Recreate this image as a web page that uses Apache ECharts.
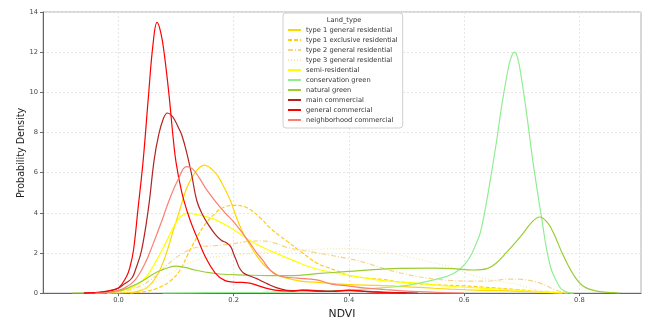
<!DOCTYPE html>
<html>
<head>
<meta charset="utf-8">
<script src="https://cdn.jsdelivr.net/npm/echarts@6/dist/echarts.min.js"></script>
<style>
  html, body { margin: 0; padding: 0; background: #fff; }
  #chart { width: 646px; height: 325px; }
</style>
</head>
<body>
<div id="chart"></div>
<script>
// legend order = draw order
const landTypes = [
  "type 1 general residential",
  "type 1 exclusive residential",
  "type 2 general residential",
  "type 3 general residential",
  "semi-residential",
  "conservation green",
  "natural green",
  "main commercial",
  "general commercial",
  "neighborhood commercial"
];

const xTicks = [0.0, 0.2, 0.4, 0.6, 0.8];

// KDE curves, [NDVI, density]
const t1General = [[-0.02,0],[0.02,0.03],[0.035,0.1],[0.049,0.26],[0.066,0.83],[0.081,1.8],[0.095,3.1],[0.107,4.2],[0.118,5.2],[0.133,6.0],[0.149,6.37],[0.168,6.0],[0.18,5.45],[0.194,4.63],[0.205,3.75],[0.217,2.95],[0.228,2.4],[0.24,1.85],[0.251,1.45],[0.263,1.15],[0.28,0.85],[0.315,0.6],[0.34,0.55],[0.40,0.42],[0.45,0.38],[0.49,0.33],[0.53,0.27],[0.575,0.2],[0.63,0.14],[0.69,0.1],[0.74,0.04],[0.78,0]];
const t1Exclusive = [[0.02,0],[0.046,0.08],[0.069,0.26],[0.089,0.58],[0.107,1.15],[0.121,1.96],[0.136,2.77],[0.15,3.41],[0.168,3.98],[0.185,4.3],[0.202,4.37],[0.223,4.25],[0.246,3.75],[0.263,3.25],[0.28,2.85],[0.292,2.6],[0.315,2.1],[0.344,1.5],[0.361,1.3],[0.38,1.1],[0.40,0.88],[0.43,0.75],[0.46,0.68],[0.489,0.55],[0.547,0.42],[0.6,0.36],[0.633,0.3],[0.69,0.18],[0.74,0.06],[0.79,0]];
const t2General = [[-0.02,0],[0.0,0.05],[0.03,0.25],[0.06,0.75],[0.081,1.31],[0.11,1.96],[0.139,2.3],[0.168,2.36],[0.194,2.44],[0.228,2.58],[0.25,2.6],[0.27,2.5],[0.292,2.28],[0.338,2.04],[0.40,1.71],[0.43,1.5],[0.46,1.23],[0.49,1.0],[0.518,0.83],[0.55,0.7],[0.575,0.63],[0.61,0.6],[0.64,0.6],[0.68,0.7],[0.70,0.68],[0.732,0.5],[0.761,0.13],[0.79,0]];
const t3General = [[-0.02,0],[0.0,0.02],[0.03,0.12],[0.05,0.35],[0.081,0.83],[0.11,1.31],[0.144,1.71],[0.185,1.85],[0.22,1.95],[0.263,2.04],[0.303,2.12],[0.36,2.2],[0.40,2.22],[0.43,2.15],[0.46,2.04],[0.518,1.71],[0.575,1.3],[0.62,0.85],[0.66,0.58],[0.69,0.45],[0.72,0.2],[0.76,0.05],[0.79,0]];
const semiRes = [[-0.04,0],[-0.02,0.02],[0.0,0.1],[0.023,0.26],[0.046,0.74],[0.063,1.47],[0.081,2.44],[0.094,3.2],[0.104,3.68],[0.112,3.9],[0.12,3.98],[0.13,3.95],[0.145,3.86],[0.168,3.66],[0.199,3.17],[0.234,2.52],[0.269,2.04],[0.303,1.63],[0.344,1.2],[0.39,0.94],[0.46,0.62],[0.518,0.5],[0.575,0.34],[0.633,0.24],[0.69,0.15],[0.73,0.06],[0.77,0]];
const consGreen = [[0.077,0],[0.15,0.02],[0.25,0.04],[0.30,0.06],[0.35,0.1],[0.40,0.15],[0.45,0.25],[0.489,0.34],[0.52,0.48],[0.547,0.66],[0.564,0.78],[0.58,0.95],[0.593,1.2],[0.603,1.5],[0.613,1.95],[0.62,2.4],[0.628,3.0],[0.638,4.4],[0.648,6.08],[0.657,7.7],[0.665,9.3],[0.674,10.8],[0.68,11.6],[0.687,12.0],[0.693,11.7],[0.70,10.6],[0.709,8.83],[0.717,7.05],[0.726,5.28],[0.735,3.66],[0.743,2.2],[0.75,1.3],[0.755,0.9],[0.762,0.5],[0.769,0.2],[0.78,0.04],[0.79,0]];
const natGreen = [[-0.08,0],[-0.04,0.01],[-0.02,0.03],[0.0,0.1],[0.017,0.26],[0.04,0.58],[0.063,0.99],[0.08,1.2],[0.098,1.34],[0.115,1.28],[0.133,1.15],[0.15,1.05],[0.176,0.95],[0.22,0.9],[0.263,0.87],[0.303,0.87],[0.344,0.97],[0.40,1.08],[0.45,1.18],[0.489,1.23],[0.547,1.24],[0.58,1.22],[0.616,1.15],[0.64,1.22],[0.656,1.5],[0.674,2.04],[0.69,2.55],[0.703,3.0],[0.718,3.55],[0.731,3.79],[0.745,3.5],[0.755,3.0],[0.772,1.88],[0.79,0.9],[0.807,0.34],[0.83,0.1],[0.86,0.02],[0.87,0]];
const mainCom = [[-0.06,0],[-0.04,0.03],[-0.02,0.1],[0.0,0.25],[0.01,0.45],[0.023,0.74],[0.03,1.2],[0.04,2.12],[0.052,4.22],[0.062,6.65],[0.07,7.9],[0.078,8.7],[0.085,8.97],[0.092,8.85],[0.098,8.6],[0.104,8.25],[0.11,7.86],[0.118,7.05],[0.127,5.9],[0.136,4.6],[0.146,3.9],[0.156,3.41],[0.168,2.93],[0.179,2.62],[0.188,2.5],[0.195,2.3],[0.2,1.95],[0.205,1.6],[0.21,1.25],[0.217,1.0],[0.228,0.85],[0.24,0.72],[0.252,0.55],[0.263,0.4],[0.28,0.22],[0.3,0.12],[0.33,0.15],[0.36,0.1],[0.4,0.12],[0.44,0.07],[0.48,0.03],[0.52,0]];
const genCom = [[-0.06,0],[-0.04,0.02],[-0.02,0.08],[0.0,0.26],[0.014,0.83],[0.02,1.3],[0.026,2.12],[0.034,4.22],[0.043,6.65],[0.052,9.8],[0.06,12.4],[0.067,13.48],[0.074,12.9],[0.08,11.8],[0.088,9.8],[0.094,8.0],[0.1,6.5],[0.11,5.0],[0.12,4.0],[0.128,3.35],[0.136,2.8],[0.15,1.85],[0.168,1.0],[0.185,0.62],[0.2,0.55],[0.215,0.53],[0.228,0.5],[0.245,0.35],[0.26,0.22],[0.28,0.12],[0.30,0.1],[0.32,0.15],[0.34,0.1],[0.37,0.08],[0.40,0.15],[0.43,0.08],[0.46,0.03],[0.5,0]];
const nbhdCom = [[-0.04,0],[-0.02,0.03],[-0.006,0.1],[0.011,0.26],[0.029,0.66],[0.046,1.47],[0.06,2.44],[0.075,3.58],[0.089,4.7],[0.104,5.68],[0.118,6.3],[0.128,6.2],[0.14,5.75],[0.153,5.15],[0.17,4.5],[0.185,4.0],[0.2,3.55],[0.215,3.0],[0.228,2.5],[0.24,2.0],[0.25,1.65],[0.263,1.15],[0.275,0.9],[0.29,0.8],[0.31,0.75],[0.344,0.66],[0.37,0.45],[0.40,0.35],[0.43,0.25],[0.46,0.18],[0.5,0.1],[0.55,0.04],[0.6,0]];

const curves = [t1General, t1Exclusive, t2General, t3General, semiRes, consGreen, natGreen, mainCom, genCom, nbhdCom];

// styling
const lineColors = ["#ffd700", "#ffcc11", "#f5d488", "#f6e8ad", "#ffff00", "#90ee90", "#9acd32", "#b22222", "#ff0000", "#fa8072"];
const lineTypes = ["solid", [4, 2], [5, 2, 1, 2], [1, 2], "solid", "solid", "solid", "solid", "solid", "solid"];

const FONT = "DejaVu Sans";
const chart = echarts.init(document.getElementById("chart"), null, { renderer: "canvas" });

chart.setOption({
  animation: false,
  backgroundColor: "#fff",
  grid: {
    left: 43, right: 5, top: 12, bottom: 23,
    show: true, borderColor: "#b0b0b0", borderWidth: 1
  },
  legend: {
    orient: "vertical",
    left: 283, top: 13,
    padding: [13, 5, 4, 4],
    itemWidth: 13, itemHeight: 8, itemGap: 2,
    borderColor: "#d0d0d0", borderWidth: 1, borderRadius: 3,
    backgroundColor: "rgba(255,255,255,0.85)",
    // hide the dot echarts puts on line icons, keep the line
    itemStyle: { color: "rgba(0,0,0,0)", borderColor: "rgba(0,0,0,0)", borderWidth: 0 },
    textStyle: { fontFamily: FONT, fontSize: 6.7, color: "#333", lineHeight: 8 },
    data: landTypes
  },
  graphic: [
    {
      type: "text", x: 344, y: 20, z: 100,
      style: { text: "Land_type", font: "6.7px 'DejaVu Sans'", fill: "#333", textAlign: "center", textVerticalAlign: "middle" }
    },
    {
      type: "text", x: 21, y: 153, rotation: Math.PI / 2,
      style: { text: "Probability Density", font: "9.6px 'DejaVu Sans'", fill: "#222", textAlign: "center", textVerticalAlign: "middle" }
    }
  ],
  xAxis: {
    type: "value",
    min: -0.131, max: 0.907,
    name: "NDVI", nameLocation: "middle", nameGap: 13,
    nameTextStyle: { fontFamily: FONT, fontSize: 10.8, color: "#222" },
    axisLine: { show: true, onZero: false, lineStyle: { color: "#666", width: 1 } },
    axisTick: { show: true, length: 3, customValues: xTicks, lineStyle: { color: "#666" } },
    axisLabel: {
      customValues: xTicks, margin: 4,
      fontFamily: FONT, fontSize: 6.7, color: "#444",
      formatter: (v) => v.toFixed(1)
    },
    splitLine: { show: true, lineStyle: { color: "#e6e6e6", type: [2, 2], width: 1 } }
  },
  yAxis: {
    type: "value",
    min: 0, max: 14, interval: 2,
    axisLine: { show: true, onZero: false, lineStyle: { color: "#666", width: 1 } },
    axisTick: { show: true, length: 3, lineStyle: { color: "#666" } },
    axisLabel: { margin: 5, fontFamily: FONT, fontSize: 6.7, color: "#444" },
    splitLine: { show: true, lineStyle: { color: "#e6e6e6", type: [2, 2], width: 1 } }
  },
  series: landTypes.map((name, i) => ({
    name: name,
    type: "line",
    data: curves[i],
    symbol: "none",
    showSymbol: false,
    smooth: 0.4,
    clip: true,
    lineStyle: { color: lineColors[i], width: 1.2, type: lineTypes[i] },
    itemStyle: { color: lineColors[i] }
  }))
});
</script>
</body>
</html>
